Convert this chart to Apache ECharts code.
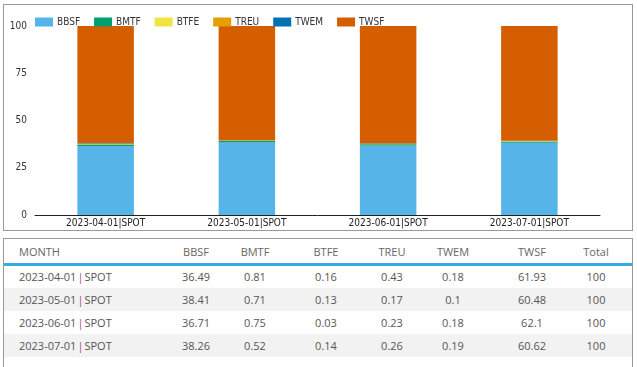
<!DOCTYPE html>
<html>
<head>
<meta charset="utf-8">
<script src="https://cdn.jsdelivr.net/npm/echarts@6/dist/echarts.min.js"></script>
<style>
  html, body { margin:0; padding:0; width:637px; height:367px; overflow:hidden; background:#fff; }
  #frame { position:absolute; left:3px; top:4px; width:628px; height:225px; border:1px solid #999; }
  #chart { position:absolute; left:0; top:0; width:637px; height:235px; }
  #tbl { position:absolute; left:3px; top:238px; width:628px; height:140px; border:1px solid #999;
         font-family:"Open Sans", sans-serif; font-size:11px; color:#555; }
  .row { position:absolute; left:0; width:628px; height:23px; }
  .cell { position:absolute; top:0; height:23px; line-height:23px; white-space:nowrap; }
  .num { width:80px; text-align:center; }
  .bar { color:#b4407a; margin:0 1px; }
</style>
</head>
<body>
<div id="frame"></div>
<div id="chart"></div>
<div id="tbl"></div>
<script>
var categories = ['2023-04-01|SPOT', '2023-05-01|SPOT', '2023-06-01|SPOT', '2023-07-01|SPOT'];
var seriesNames = ['BBSF', 'BMTF', 'BTFE', 'TREU', 'TWEM', 'TWSF'];
var BBSF = [36.49, 38.41, 36.71, 38.26];
var BMTF = [0.81, 0.71, 0.75, 0.52];
var BTFE = [0.16, 0.13, 0.03, 0.14];
var TREU = [0.43, 0.17, 0.23, 0.26];
var TWEM = [0.18, 0.1, 0.18, 0.19];
var TWSF = [61.93, 60.48, 62.1, 60.62];
var Total = [100, 100, 100, 100];
var yTicks = [0, 25, 50, 75, 100];
var tableHeaders = ['MONTH', 'BBSF', 'BMTF', 'BTFE', 'TREU', 'TWEM', 'TWSF', 'Total'];

var colors = ['#56b4e9', '#009e73', '#f0e442', '#e69f00', '#0072b2', '#d55e00'];
var values = [BBSF, BMTF, BTFE, TREU, TWEM, TWSF];

var chart = echarts.init(document.getElementById('chart'), null, {renderer: 'canvas'});
var font = '"DejaVu Sans Condensed", "DejaVu Sans", Tahoma, sans-serif';
chart.setOption({
  animation: false,
  color: colors,
  textStyle: { fontFamily: font },
  legend: {
    left: 30, top: 12, itemWidth: 18, itemHeight: 9, itemGap: 14,
    icon: 'rect',
    textStyle: { fontFamily: font, fontSize: 10, color: '#333', padding: [0, 0, 0, -1] },
    data: seriesNames
  },
  grid: { left: 35, right: 37, top: 26, bottom: 20, containLabel: false },
  xAxis: {
    type: 'category', data: categories,
    axisLine: { lineStyle: { color: '#222', width: 1 } },
    axisTick: { show: false },
    axisLabel: { fontFamily: font, fontSize: 10, color: '#222', margin: 3, interval: 0 }
  },
  yAxis: {
    type: 'value', min: yTicks[0], max: yTicks[yTicks.length - 1], interval: 25,
    splitLine: { show: false }, axisLine: { show: false }, axisTick: { show: false },
    axisLabel: { fontFamily: font, fontSize: 10, color: '#333', margin: 8 }
  },
  series: seriesNames.map(function (n, i) {
    return { name: n, type: 'bar', stack: 'total', barWidth: '40%', data: values[i] };
  })
});

// table
var tbl = document.getElementById('tbl');
var centers = [null, 192, 251, 322, 388, 449, 528, 592];
function addRow(top, cells, bg, isHeader) {
  var r = document.createElement('div');
  r.className = 'row';
  r.style.top = top + 'px';
  if (bg) r.style.background = bg;
  if (isHeader) { r.style.color = '#666'; }
  cells.forEach(function (c, i) {
    var d = document.createElement('div');
    d.className = 'cell';
    if (i === 0) {
      d.style.left = '15px';
      if (!isHeader) {
        var parts = String(c).split('|');
        d.innerHTML = parts[0] + '<span class="bar">|</span>' + parts[1];
      } else d.textContent = c;
    } else {
      d.className += ' num';
      d.style.left = (centers[i] - 40) + 'px';
      d.textContent = c;
    }
    r.appendChild(d);
  });
  tbl.appendChild(r);
}
addRow(1, tableHeaders, null, true);
var line = document.createElement('div');
line.style.cssText = 'position:absolute;left:0;top:24px;width:628px;height:3px;background:#33aee0;';
tbl.appendChild(line);
for (var k = 0; k < categories.length; k++) {
  addRow(26 + k * 23, [categories[k], BBSF[k], BMTF[k], BTFE[k], TREU[k], TWEM[k], TWSF[k], Total[k]],
         k % 2 === 1 ? '#f2f2f2' : null, false);
}
</script>
</body>
</html>
